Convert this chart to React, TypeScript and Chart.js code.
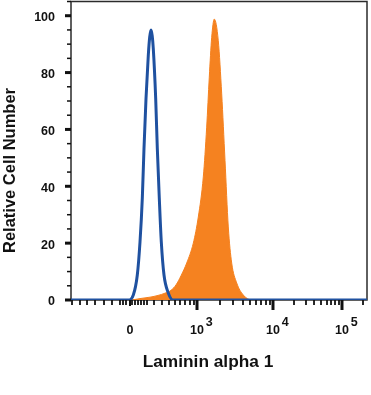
import React, { useEffect, useRef } from "react";
import { Chart, registerables } from "chart.js";

Chart.register(...registerables);

// Display channel (0..1000 across the plot width)
const isotypeChannel = [0, 193.6, 210.5, 224, 233.1, 240.9, 246.6, 253.4, 261.1, 265.9, 270.3, 274.3, 278, 286.1, 291.6, 298.3, 305.1, 314.2, 328.7, 344.6, 1000];
const isotypeCount = [0, 0, 1.75, 8.8, 20.4, 35.8, 53.3, 70.9, 86, 92.5, 95, 93, 88.4, 70.9, 53.3, 35.8, 20.4, 8.8, 2.5, 0, 0];

const stainedChannel = [0, 199.3, 233.1, 266.9, 293.9, 317.6, 337.8, 354.7, 371.6, 390.9, 413.2, 430.1, 447, 458.4, 467.2, 475.3, 484.1, 497.6, 509.1, 520.3, 531.4, 542.9, 559.8, 582.1, 610.5, 1000];
const stainedCount = [0, 0, 0.5, 1, 1.6, 2.4, 3.4, 5.3, 8.5, 13, 20, 29.2, 43.3, 60.8, 78.4, 92.4, 98.8, 91.2, 72.5, 49.1, 25.7, 13, 6, 1.75, 0, 0];

const xMajorTicks = [199.3, 425.7, 682.4, 915.5];
const xMajorBases = ["0", "10", "10", "10"];
const xMajorExponents = ["", "3", "4", "5"];
const xMinorTicks = [3.4, 30.4, 54.1, 81.1, 111.5, 138.5, 165.5, 175.7, 185.8, 206.1, 216.2, 226.4, 236.5, 246.6, 256.8, 280.4, 307.4, 331.1, 351.4, 368.2, 385.1, 402, 415.5, 503.4, 547.3, 581.1, 604.7, 625, 641.9, 658.8, 672.3, 753.4, 793.9, 821, 844.6, 864.9, 878.4, 891.9, 905.4, 986.5];

const yMajorTicks = [0, 20, 40, 60, 80, 100];
const yMinorTicks = [5, 10, 15, 25, 30, 35, 45, 50, 55, 65, 70, 75, 85, 90, 95, 105];

const xTitle = "Laminin alpha 1";
const yTitle = "Relative Cell Number";

const BLUE = "#1f51a0";
const ORANGE = "#f58220";
const INK = "#111111";
const FONT = '"Liberation Sans", Arial, sans-serif';

const decor = {
  id: "decor",
  beforeDatasetsDraw(chart: any) {
    const { ctx, chartArea: a } = chart;
    ctx.save();
    ctx.strokeStyle = "#2b2b2b";
    ctx.lineWidth = 1.5;
    ctx.strokeRect(a.left, a.top, a.right - a.left, a.bottom - a.top);
    ctx.restore();
  },
  afterDraw(chart: any) {
    const { ctx, chartArea: a, scales } = chart;
    const xs = scales.x;
    const ys = scales.y;
    const seg = (x1: number, y1: number, x2: number, y2: number, w: number) => {
      ctx.lineWidth = w;
      ctx.beginPath();
      ctx.moveTo(x1, y1);
      ctx.lineTo(x2, y2);
      ctx.stroke();
    };
    ctx.save();
    ctx.strokeStyle = INK;
    for (const v of yMajorTicks) {
      const p = ys.getPixelForValue(v);
      seg(a.left - 6, p, a.left, p, 3);
    }
    for (const v of yMinorTicks) {
      const p = ys.getPixelForValue(v);
      seg(a.left - 4, p, a.left, p, 1.5);
    }
    xMajorTicks.forEach((v, i) => {
      const p = xs.getPixelForValue(v);
      const len = xMajorExponents[i] ? 10 : 6;
      seg(p, a.bottom, p, a.bottom + len, xMajorExponents[i] ? 3 : 2);
    });
    for (const v of xMinorTicks) {
      const p = xs.getPixelForValue(v);
      seg(p, a.bottom, p, a.bottom + 5, 1.8);
    }
    ctx.fillStyle = INK;
    ctx.textAlign = "center";
    ctx.textBaseline = "alphabetic";
    ctx.font = "bold 17.3px " + FONT;
    ctx.fillText(xTitle, 208, 367);
    ctx.font = "bold 16.5px " + FONT;
    ctx.translate(15, 170.5);
    ctx.rotate(-Math.PI / 2);
    ctx.fillText(yTitle, 0, 0);
    ctx.restore();
  },
};

const zeroPadding = (scale: any) => {
  scale.paddingTop = 0;
  scale.paddingBottom = 0;
  scale.paddingLeft = 0;
  scale.paddingRight = 0;
};

export default function App() {
  const ref = useRef<HTMLCanvasElement>(null);

  useEffect(() => {
    document.body.style.margin = "0";
    const canvas = ref.current;
    if (!canvas) return;
    const chart = new Chart(canvas, {
      type: "line",
      data: {
        datasets: [
          {
            label: "Isotype",
            data: isotypeChannel.map((x, i) => ({ x, y: isotypeCount[i] })),
            borderColor: BLUE,
            borderWidth: 3,
            fill: false,
            pointRadius: 0,
            cubicInterpolationMode: "monotone",
            order: 0,
          },
          {
            label: "Laminin alpha 1",
            data: stainedChannel.map((x, i) => ({ x, y: stainedCount[i] })),
            borderColor: ORANGE,
            backgroundColor: ORANGE,
            borderWidth: 1,
            fill: "origin",
            pointRadius: 0,
            cubicInterpolationMode: "monotone",
            order: 1,
          },
        ],
      },
      options: {
        animation: false,
        responsive: false,
        devicePixelRatio: 1,
        layout: { padding: { top: 1.5, right: 4, left: 0, bottom: 0 } },
        plugins: { legend: { display: false }, tooltip: { enabled: false } },
        scales: {
          x: {
            type: "linear",
            min: 0,
            max: 1000,
            grid: { display: false, drawTicks: false },
            border: { display: false },
            afterBuildTicks: (scale: any) => {
              scale.ticks = [...xMajorTicks, ...xMinorTicks]
                .sort((p, q) => p - q)
                .map((value) => ({ value }));
            },
            afterFit: (scale: any) => {
              scale.height = 95;
              zeroPadding(scale);
            },
            ticks: {
              autoSkip: false,
              maxRotation: 0,
              minRotation: 0,
              padding: 18,
              color: INK,
              font: { family: FONT, size: 12.5, weight: "bold", lineHeight: 0.65 },
              callback: (value: any) => {
                const i = xMajorTicks.indexOf(Number(value));
                if (i < 0) return "";
                const exp = xMajorExponents[i];
                return [exp ? "       " + exp : "", xMajorBases[i]];
              },
            },
          },
          y: {
            type: "linear",
            min: 0,
            max: 105,
            grid: { display: false, drawTicks: false },
            border: { display: false },
            afterBuildTicks: (scale: any) => {
              scale.ticks = [...yMajorTicks, ...yMinorTicks]
                .sort((p, q) => p - q)
                .map((value) => ({ value }));
            },
            afterFit: (scale: any) => {
              scale.width = 71;
              zeroPadding(scale);
            },
            ticks: {
              autoSkip: false,
              padding: 16,
              labelOffset: 2,
              color: INK,
              font: { family: FONT, size: 12.5, weight: "bold" },
              callback: (value: any) =>
                yMajorTicks.includes(Number(value)) ? String(value) : "",
            },
          },
        },
      },
      plugins: [decor],
    });
    return () => chart.destroy();
  }, []);

  return (
    <div style={{ width: 371, height: 395, background: "#ffffff" }}>
      <canvas ref={ref} width={371} height={395} style={{ display: "block" }} />
    </div>
  );
}
